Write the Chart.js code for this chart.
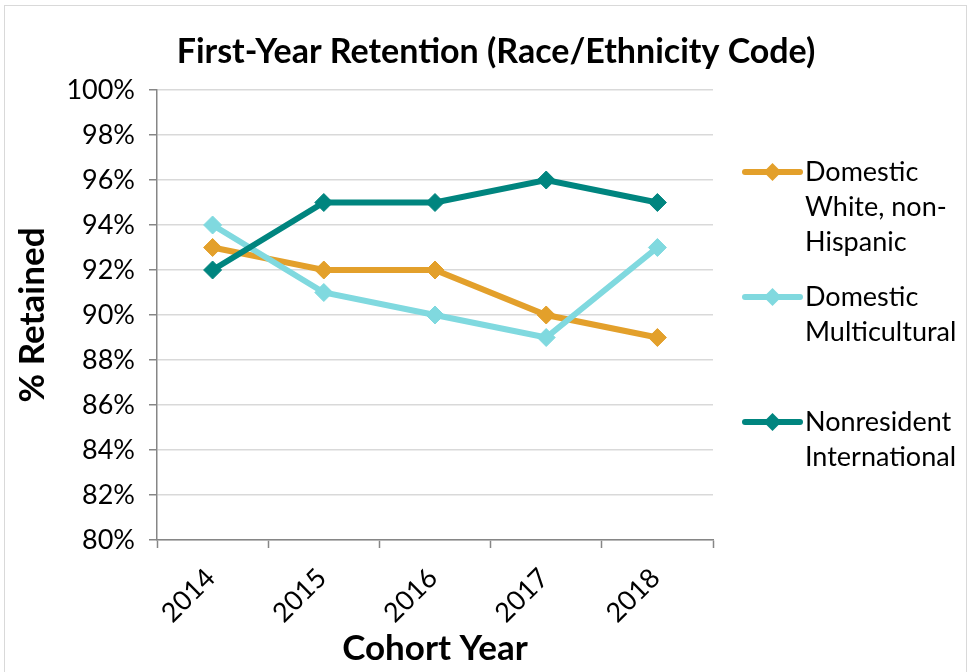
<!DOCTYPE html>
<html>
<head>
<meta charset="utf-8">
<script src="https://cdn.jsdelivr.net/npm/chart.js@4"></script>
<style>
  body { margin: 0; background: #fff; }
  #wrap { width: 972px; height: 672px; position: relative; }
</style>
</head>
<body>
<div id="wrap"><canvas id="retention-chart"></canvas></div>
<script>
// Chart data
const years = ['2014', '2015', '2016', '2017', '2018'];
const whiteNonHispanic = [93, 92, 92, 90, 89];
const multicultural = [94, 91, 90, 89, 93];
const international = [92, 95, 95, 96, 95];
const yTicks = [80, 82, 84, 86, 88, 90, 92, 94, 96, 98, 100];
const seriesNames = [
    ['Domestic', 'White, non-', 'Hispanic'],
    ['Domestic', 'Multicultural'],
    ['Nonresident', 'International']
];
const chartTitle = 'First-Year Retention (Race/Ethnicity Code)';

const orangeColor = '#e3a02b';
const cyanColor = '#80d9df';
const tealColor = '#00857f';
const fontFamily = 'Lato, "Open Sans", sans-serif';

function makeSeries(name, values, color, order) {
    return {
        label: name.join(' '),
        data: values,
        borderColor: color,
        backgroundColor: color,
        borderWidth: 6,
        pointStyle: 'rectRot',
        pointRadius: 9,
        pointBorderWidth: 1,
        pointHoverRadius: 9,
        tension: 0,
        order: order
    };
}

// title centred on the whole picture, custom legend to the right of the plot
const sideLegend = {
    id: 'sideLegend',
    afterDraw(chart) {
        const ctx = chart.ctx;
        const x0 = chart.chartArea.right + 32;
        ctx.save();
        ctx.fillStyle = '#000';
        ctx.font = 'bold 34px ' + fontFamily;
        ctx.textAlign = 'center';
        ctx.textBaseline = 'middle';
        ctx.fillText(chartTitle, 496, 52);

        chart.data.datasets.forEach((ds, i) => {
            const y = 172 + i * 125;
            ctx.strokeStyle = ds.borderColor;
            ctx.lineWidth = 6;
            ctx.lineCap = 'round';
            ctx.beginPath();
            ctx.moveTo(x0, y);
            ctx.lineTo(x0 + 55, y);
            ctx.stroke();
            ctx.fillStyle = ds.borderColor;
            ctx.beginPath();
            ctx.moveTo(x0 + 27.5, y - 9);
            ctx.lineTo(x0 + 36.5, y);
            ctx.lineTo(x0 + 27.5, y + 9);
            ctx.lineTo(x0 + 18.5, y);
            ctx.closePath();
            ctx.fill();
            ctx.fillStyle = '#000';
            ctx.font = '27px ' + fontFamily;
            ctx.textBaseline = 'middle';
            ctx.textAlign = 'left';
            seriesNames[i].forEach((line, j) => {
                ctx.fillText(line, x0 + 60, y + j * 35);
            });
        });
        // outer frame
        ctx.strokeStyle = '#d9d9d9';
        ctx.lineWidth = 1;
        ctx.strokeRect(4.5, 5.5, 962, 700);
        ctx.restore();
    }
};

const config = {
    type: 'line',
    data: {
        labels: years,
        datasets: [
            makeSeries(seriesNames[0], whiteNonHispanic, orangeColor, 3),
            makeSeries(seriesNames[1], multicultural, cyanColor, 2),
            makeSeries(seriesNames[2], international, tealColor, 1)
        ]
    },
    options: {
        responsive: true,
        maintainAspectRatio: false,
        animation: false,
        layout: {
            padding: { top: 90, left: 12, right: 259, bottom: 2 }
        },
        plugins: {
            legend: { display: false },
            tooltip: { enabled: false },
            title: { display: false }
        },
        scales: {
            x: {
                offset: true,
                grid: {
                    display: true,
                    offset: true,
                    drawOnChartArea: false,
                    drawTicks: true,
                    tickLength: 8,
                    tickColor: '#868686',
                    tickWidth: 1.5
                },
                border: { color: '#868686', width: 1.5 },
                ticks: {
                    color: '#000',
                    font: { family: fontFamily, size: 27 },
                    minRotation: 45,
                    maxRotation: 45,
                    padding: 14,
                    labelOffset: -2
                },
                title: {
                    display: true,
                    text: 'Cohort Year',
                    color: '#000',
                    font: { family: fontFamily, size: 35, weight: 'bold' },
                    padding: { top: 0, bottom: 0 }
                },
                afterFit(scale) { scale.height = 130; }
            },
            y: {
                min: 80,
                max: 100,
                afterBuildTicks(scale) {
                    scale.ticks = yTicks.map(v => ({ value: v }));
                },
                grid: {
                    color: '#d9d9d9',
                    lineWidth: 1.5,
                    drawTicks: true,
                    tickLength: 8,
                    tickColor: '#868686'
                },
                border: { color: '#868686', width: 1.5 },
                ticks: {
                    color: '#000',
                    font: { family: fontFamily, size: 27 },
                    padding: 14,
                    callback: v => v + '%'
                },
                title: {
                    display: true,
                    text: '% Retained',
                    color: '#000',
                    font: { family: fontFamily, size: 35, weight: 'bold' },
                    padding: { top: 0, bottom: 4 }
                },
                afterFit(scale) { scale.width = 145; }
            }
        }
    },
    plugins: [sideLegend]
};

const ctxRetention = document.getElementById('retention-chart');
new Chart(ctxRetention, config);
</script>
</body>
</html>
